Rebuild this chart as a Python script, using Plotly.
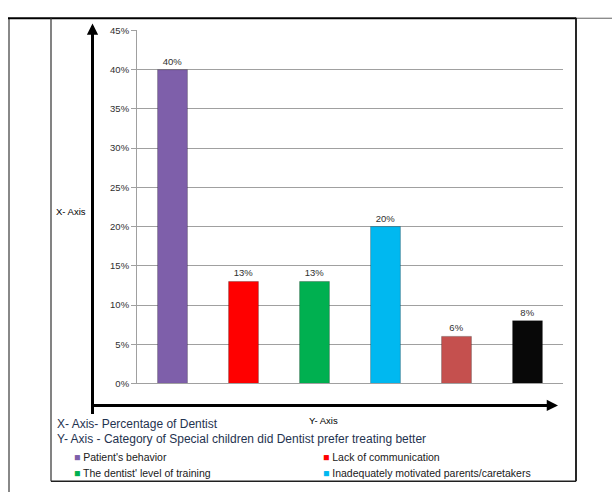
import plotly.graph_objects as go

W, H = 612, 497

categories = ["Patient's behavior", "Lack of communication", "The dentist' level of training",
              "Inadequately motivated parents/caretakers", "Category 5", "Category 6"]
values = [40, 13, 13, 20, 6, 8]
bar_colors = ["#7E5FAA", "#FF0000", "#00B050", "#00B8F0", "#C5504E", "#080808"]
legend_labels = ["Patient's behavior", "Lack of communication",
                 "The dentist' level of training", "Inadequately motivated parents/caretakers"]
legend_colors = bar_colors[:4]
y_ticks = [0, 5, 10, 15, 20, 25, 30, 35, 40, 45]
note_lines = ["X- Axis- Percentage of Dentist",
              "Y- Axis - Category of Special children did Dentist prefer treating better"]

FONT = "Liberation Sans"

def px(x):
    return x / W

def py(y):
    return 1 - y / H

fig = go.Figure()
fig.add_trace(go.Bar(
    x=categories, y=values,
    marker=dict(color=bar_colors, line=dict(color="rgba(0,0,0,0.25)", width=1)),
    width=0.42,
    text=[f"{v}%" for v in values], textposition="outside",
    textfont=dict(family=FONT, size=9.5, color="#303030"),
    cliponaxis=False, showlegend=False,
))

fig.update_layout(
    width=W, height=H,
    margin=dict(l=0, r=0, t=0, b=0),
    paper_bgcolor="white", plot_bgcolor="white",
    font=dict(family=FONT, color="#000000"),
    xaxis=dict(domain=[px(137), px(563)], showticklabels=False, ticks="",
               showgrid=False, showline=True, linecolor="#A0A0A0", linewidth=1,
               zeroline=False, fixedrange=True),
    yaxis=dict(domain=[py(386), py(25)], range=[0, 45], tickvals=y_ticks,
               ticktext=[f"{v}%" for v in y_ticks],
               tickfont=dict(family=FONT, size=9.5, color="#303030"),
               ticks="outside", ticklen=5, tickcolor="#A0A0A0",
               showgrid=True, gridcolor="#A0A0A0", gridwidth=1,
               showline=True, linecolor="#A0A0A0", linewidth=1,
               zeroline=False, fixedrange=True),
)

shapes = []
# table borders
shapes.append(dict(type="line", xref="paper", yref="paper", x0=px(9), x1=px(9), y0=py(12), y1=py(497),
                   line=dict(color="#606060", width=1.5)))
shapes.append(dict(type="line", xref="paper", yref="paper", x0=px(8), x1=px(576), y0=py(12.5), y1=py(12.5),
                   line=dict(color="#000000", width=2)))
shapes.append(dict(type="line", xref="paper", yref="paper", x0=px(576), x1=px(612), y0=py(12.5), y1=py(12.5),
                   line=dict(color="#606060", width=1)))
shapes.append(dict(type="line", xref="paper", yref="paper", x0=px(51), x1=px(51), y0=py(12), y1=py(486),
                   line=dict(color="#303030", width=1.2)))
shapes.append(dict(type="line", xref="paper", yref="paper", x0=px(576), x1=px(576), y0=py(12), y1=py(486),
                   line=dict(color="#101010", width=1.8)))
shapes.append(dict(type="line", xref="paper", yref="paper", x0=px(51), x1=px(576), y0=py(486), y1=py(486),
                   line=dict(color="#202020", width=1.5)))
fig.update_layout(shapes=shapes)

ann = []
# arrows
ann.append(dict(xref="paper", yref="paper", x=px(92.5), y=py(18), text="", showarrow=True,
                axref="pixel", ayref="pixel", ax=0, ay=392, arrowhead=2, arrowsize=0.75,
                arrowwidth=3, arrowcolor="#000000"))
ann.append(dict(xref="paper", yref="paper", x=px(558), y=py(408.5), text="", showarrow=True,
                axref="pixel", ayref="pixel", ax=-467, ay=0, arrowhead=2, arrowsize=0.75,
                arrowwidth=3, arrowcolor="#000000"))
# axis labels
ann.append(dict(xref="paper", yref="paper", x=px(71), y=py(210), text="X- Axis", showarrow=False,
                font=dict(family=FONT, size=9.5, color="#000000"), xanchor="center", yanchor="middle"))
ann.append(dict(xref="paper", yref="paper", x=px(323), y=py(424), text="Y- Axis", showarrow=False,
                font=dict(family=FONT, size=9.5, color="#000000"), xanchor="center", yanchor="middle"))
# notes
for i, t in enumerate(note_lines):
    ann.append(dict(xref="paper", yref="paper", x=px(55), y=py(427 + i * 15.5), text=t, showarrow=False,
                    font=dict(family=FONT, size=12, color="#1F3350"), xanchor="left", yanchor="middle"))
# legend
leg_pos = [(72, 461), (321, 461), (72, 478), (321, 478)]
for (lx, ly), lab, col in zip(leg_pos, legend_labels, legend_colors):
    ann.append(dict(xref="paper", yref="paper", x=px(lx), y=py(ly),
                    text=f"<span style='color:{col}'>■</span> {lab}", showarrow=False,
                    font=dict(family=FONT, size=10.5, color="#202020"), xanchor="left", yanchor="middle"))
fig.update_layout(annotations=ann)

fig.write_html("out.html")
